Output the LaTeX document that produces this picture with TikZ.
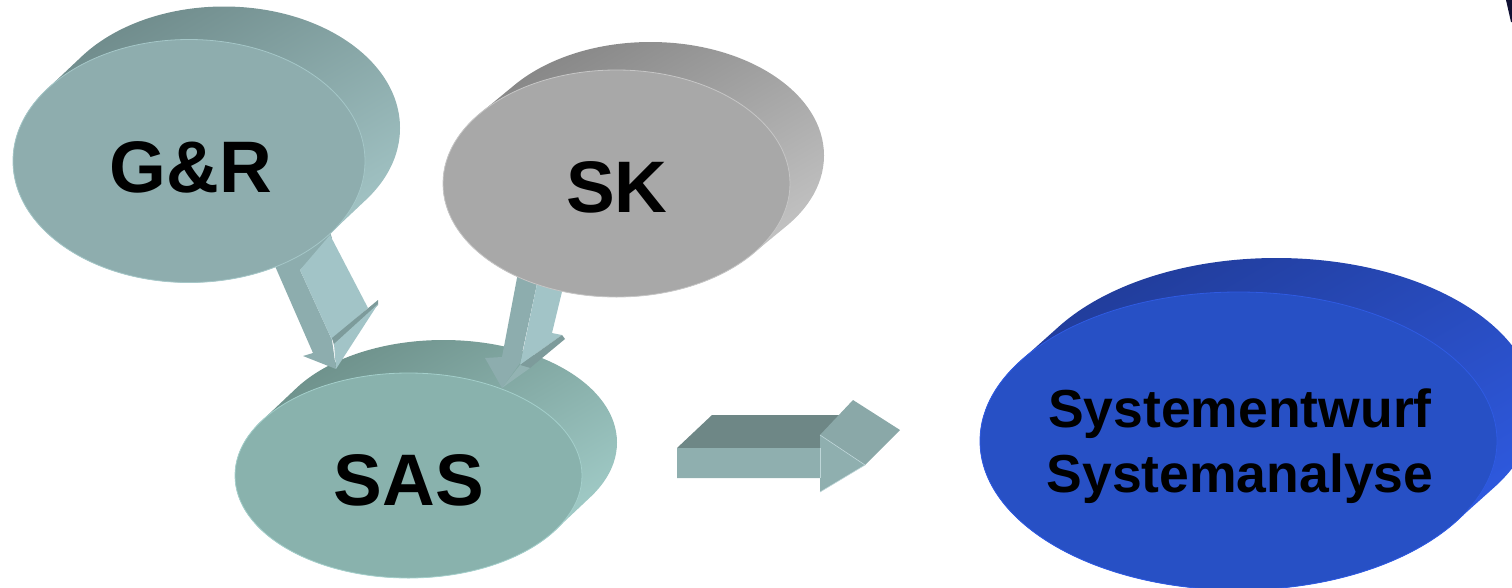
\documentclass[tikz,border=0pt]{standalone}
\usepackage{fontspec}
\setmainfont{Liberation Sans}
\definecolor{grface}{HTML}{8EADAE}
\definecolor{grdark}{HTML}{6E8A8A}
\definecolor{grlight}{HTML}{A5C7C8}
\definecolor{sasface}{HTML}{89B2AD}
\definecolor{sasdark}{HTML}{6C8F89}
\definecolor{saslight}{HTML}{A4CFCB}
\definecolor{skface}{HTML}{A8A8A8}
\definecolor{skdark}{HTML}{858585}
\definecolor{sklight}{HTML}{C6C6C6}
\definecolor{blface}{HTML}{2750C5}
\definecolor{bldark}{HTML}{213C99}
\definecolor{bllight}{HTML}{2F5BE3}
\definecolor{arrdark}{HTML}{8DADAE}
\definecolor{arrlight}{HTML}{A2C4C7}
\definecolor{arrband}{HTML}{7D9B9B}
\definecolor{arrhead}{HTML}{93B3B3}
\definecolor{hatop}{HTML}{6E8786}
\definecolor{hahead}{HTML}{8AA8A8}
\definecolor{hafront}{HTML}{8FAFAF}
\definecolor{wedge}{HTML}{111133}
% disc: cx, cy, rx, ry, dx, dy, face, side dark, side light
\newcommand\mydisc[9]{%
  \begin{scope}
    \clip \foreach \t in {0,1,...,20} { ({#1+\t*(#5)/20},{#2+\t*(#6)/20}) ellipse [x radius=#3, y radius=#4] };
    \shade[top color=#8, bottom color=#9, shading angle=30]
      ({#1-#3-2},{#2+(#6)-#4-2}) rectangle ({#1+#3+(#5)+2},{#2+#4+2});
  \end{scope}
  \fill[#7, draw=#9, line width=0.8pt] (#1,#2) ellipse [x radius=#3, y radius=#4];
}
\tikzset{
  bigtext/.style={font=\fontsize{73}{80}\selectfont\bfseries, inner sep=0pt, anchor=base, text=black},
  systext/.style={font=\fontsize{53.5}{65}\selectfont\bfseries, inner sep=0pt, anchor=base, text=black},
  edgeline/.style={draw=arrlight!70!white, line width=0.6pt, line join=round}
}
\begin{document}
\begin{tikzpicture}[x=1pt,y=-1pt]
\useasboundingbox (0,0) rectangle (1512,587);
\clip (0,0) rectangle (1512,587);

% SAS disc
\mydisc{408.5}{475.5}{173.5}{102.5}{35}{-33}{sasface}{sasdark}{saslight}

% arrow G&R -> SAS
\fill[arrdark] (268,250) -- (325,218) -- (332,238) -- (300,270) -- (332,340) -- (336,369) -- (303,356) -- (313,353) -- cycle;
\fill[arrlight] (300,270) -- (330,235) -- (368,308) -- (332,340) -- cycle;
\fill[arrband] (332,338) -- (378,300) -- (378,305) -- (334,345) -- cycle;
\fill[arrlight] (334,344) -- (378,304) -- (336,369) -- cycle;

% arrow SK -> SAS
\fill[arrdark] (520,262) -- (541,265) -- (520,363) -- (502,388) -- (485,358) -- (502,357) -- cycle;
\fill[arrlight] (541,265) -- (567,271) -- (552,333) -- (562,335) -- (520,365) -- cycle;
\fill[arrband] (562,335) -- (565,339) -- (530,368) -- (520,365) -- cycle;
\fill[arrhead] (520,365) -- (530,368) -- (502,388) -- cycle;

% G&R disc
\mydisc{189}{161}{176}{121.5}{35}{-33}{grface}{grdark}{grlight}
% SK disc
\mydisc{616.5}{183.5}{173.5}{113.5}{34}{-28}{skface}{skdark}{sklight}

% horizontal arrow SAS -> Systementwurf
\fill[hatop] (677,448) -- (712,415) -- (855,415) -- (820,448) -- cycle;
\fill[hahead] (820,435) -- (853,400) -- (900,430) -- (865,465) -- cycle;
\fill[hafront] (677,448) -- (820,448) -- (820,435) -- (865,465) -- (820,492) -- (820,478) -- (677,478) -- cycle;
\draw[edgeline] (820,435) -- (865,465) -- (820,492);
\draw[edgeline] (820,448) -- (820,478);

% blue disc
\mydisc{1238.5}{441}{258.5}{149}{38}{-34}{blface}{bldark}{bllight}

% texts
\node[bigtext] (gr) at (191,192) {G\&R};
\node[bigtext] (sk) at (617,212) {SK};
\node[bigtext] (sas) at (409,505) {SAS};
\node[systext] (sys1) at (1240,427) {Systementwurf};
\node[systext] (sys2) at (1240,492) {Systemanalyse};

% partial dark shape at the top right corner
\fill[wedge] (1506,0) -- (1512,0) -- (1512,22) -- (1511,22) -- cycle;
\end{tikzpicture}
\end{document}
